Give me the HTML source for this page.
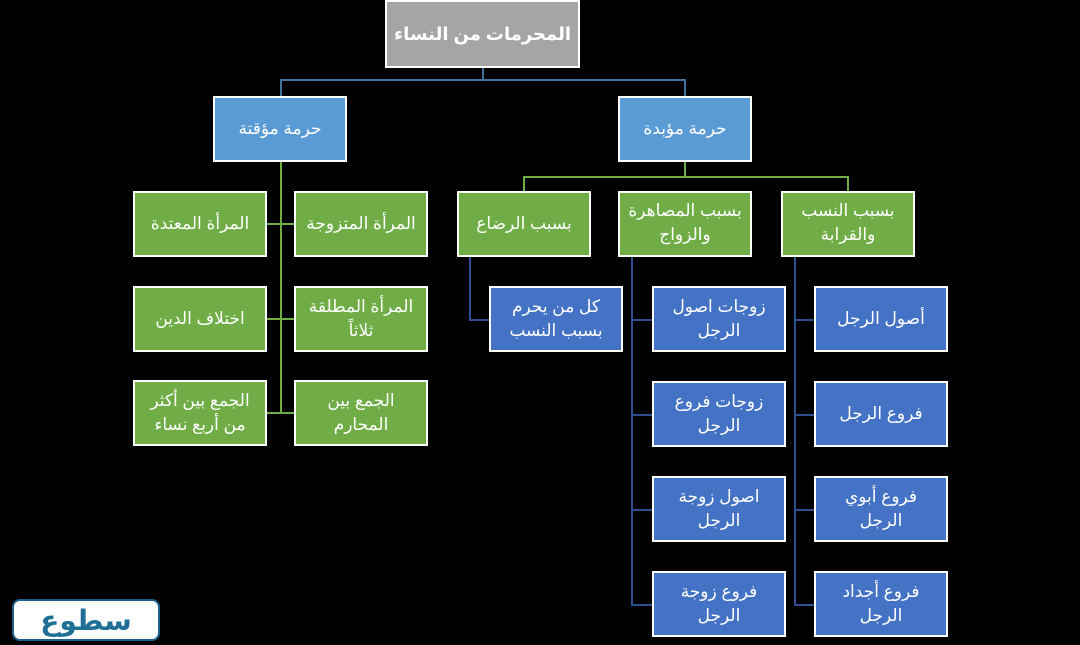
<!DOCTYPE html>
<html><head><meta charset="utf-8"><style>
body{margin:0;background:#000;width:1080px;height:645px;position:relative;overflow:hidden;font-family:"Liberation Sans","DejaVu Sans",sans-serif}
.b{position:absolute;box-sizing:border-box;border:2px solid #fff;color:#fff;display:flex;align-items:center;justify-content:center;text-align:center;direction:rtl;font-size:17px;line-height:24px;width:134px;height:66px;padding:0 1px;white-space:nowrap}
.g{background:#70ad47}.lb{background:#5b9bd5}.db{background:#4472c4}
.l{position:absolute}
.bl{background:#41719c}.gl{background:#70ad47}.nl{background:#2f4e8f}
</style></head><body>
<div class="l bl" style="left:482px;top:67px;width:2px;height:13px"></div>
<div class="l bl" style="left:280px;top:79px;width:406px;height:2px"></div>
<div class="l bl" style="left:280px;top:79px;width:2px;height:18px"></div>
<div class="l bl" style="left:684px;top:79px;width:2px;height:18px"></div>
<div class="l gl" style="left:280px;top:162px;width:2px;height:252px"></div>
<div class="l gl" style="left:267px;top:223px;width:27px;height:2px"></div>
<div class="l gl" style="left:267px;top:318px;width:27px;height:2px"></div>
<div class="l gl" style="left:267px;top:412px;width:27px;height:2px"></div>
<div class="l gl" style="left:684px;top:162px;width:2px;height:15px"></div>
<div class="l gl" style="left:523px;top:176px;width:326px;height:2px"></div>
<div class="l gl" style="left:523px;top:176px;width:2px;height:16px"></div>
<div class="l gl" style="left:847px;top:176px;width:2px;height:16px"></div>
<div class="l nl" style="left:469px;top:257px;width:2px;height:63px"></div>
<div class="l nl" style="left:469px;top:319px;width:20px;height:2px"></div>
<div class="l nl" style="left:631px;top:257px;width:2px;height:348px"></div>
<div class="l nl" style="left:631px;top:319px;width:21px;height:2px"></div>
<div class="l nl" style="left:631px;top:414px;width:21px;height:2px"></div>
<div class="l nl" style="left:631px;top:509px;width:21px;height:2px"></div>
<div class="l nl" style="left:631px;top:604px;width:21px;height:2px"></div>
<div class="l nl" style="left:794px;top:257px;width:2px;height:348px"></div>
<div class="l nl" style="left:794px;top:319px;width:20px;height:2px"></div>
<div class="l nl" style="left:794px;top:414px;width:20px;height:2px"></div>
<div class="l nl" style="left:794px;top:509px;width:20px;height:2px"></div>
<div class="l nl" style="left:794px;top:604px;width:20px;height:2px"></div>
<div class="b" style="left:385px;top:0;width:195px;height:68px;background:#a5a5a5;font-weight:bold;font-size:18px">المحرمات من النساء</div>
<div class="b lb" style="left:213px;top:96px">حرمة مؤقتة</div>
<div class="b lb" style="left:618px;top:96px">حرمة مؤبدة</div>
<div class="b g" style="left:133px;top:191px">المرأة المعتدة</div>
<div class="b g" style="left:294px;top:191px">المرأة المتزوجة</div>
<div class="b g" style="left:133px;top:286px">اختلاف الدين</div>
<div class="b g" style="left:294px;top:286px">المرأة المطلقة<br>ثلاثاً</div>
<div class="b g" style="left:133px;top:380px">الجمع بين أكثر<br>من أربع نساء</div>
<div class="b g" style="left:294px;top:380px">الجمع بين<br>المحارم</div>
<div class="b g" style="left:457px;top:191px">بسبب الرضاع</div>
<div class="b g" style="left:618px;top:191px;align-items:flex-start;padding-top:6px">بسبب المصاهرة<br>والزواج</div>
<div class="b g" style="left:781px;top:191px;align-items:flex-start;padding-top:6px">بسبب النسب<br>والقرابة</div>
<div class="b db" style="left:489px;top:286px">كل من يحرم<br>بسبب النسب</div>
<div class="b db" style="left:652px;top:286px">زوجات اصول<br>الرجل</div>
<div class="b db" style="left:652px;top:381px">زوجات فروع<br>الرجل</div>
<div class="b db" style="left:652px;top:476px">اصول زوجة<br>الرجل</div>
<div class="b db" style="left:652px;top:571px">فروع زوجة<br>الرجل</div>
<div class="b db" style="left:814px;top:286px">أصول الرجل</div>
<div class="b db" style="left:814px;top:381px">فروع الرجل</div>
<div class="b db" style="left:814px;top:476px">فروع أبوي<br>الرجل</div>
<div class="b db" style="left:814px;top:571px">فروع أجداد<br>الرجل</div>
<div style="position:absolute;left:12px;top:599px;width:148px;height:42px;box-sizing:border-box;background:#fff;border:2px solid #1f5f8b;border-radius:8px;display:flex;align-items:center;justify-content:center;color:#1f6f96;font-weight:bold;font-size:28px">سطوع</div>
</body></html>
